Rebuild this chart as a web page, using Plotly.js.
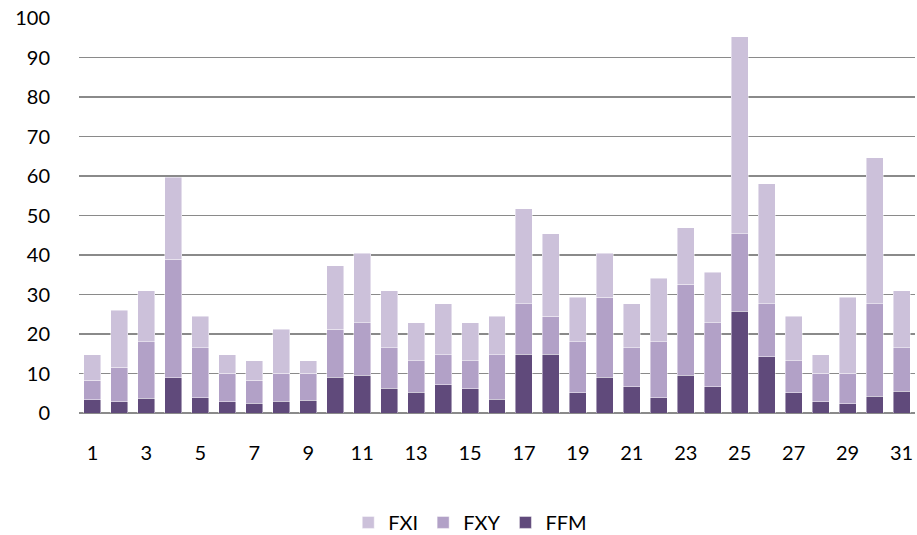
<!DOCTYPE html>
<html>
<head>
<meta charset="utf-8">
<script src="https://cdn.plot.ly/plotly-3.0.1.min.js"></script>
<style>html,body{margin:0;padding:0;background:#fff;}#chart{width:917px;height:535px;}</style>
</head>
<body>
<div id="chart"></div>
<script>
const categories = ["1","2","3","4","5","6","7","8","9","10","11","12","13","14","15","16","17","18","19","20","21","22","23","24","25","26","27","28","29","30","31"];
const tickLabels = ["1","3","5","7","9","11","13","15","17","19","21","23","25","27","29","31"];
const FFM = [3.4,2.8,3.7,8.9,3.9,2.8,2.5,3.0,3.2,9.0,9.5,6.3,5.2,7.2,6.2,3.5,14.9,14.9,5.1,9.0,6.7,3.9,9.5,6.7,25.7,14.3,5.1,2.9,2.3,4.2,5.5];
const FXY = [4.9,8.8,14.4,30.0,12.6,7.3,5.8,7.1,6.9,12.2,13.3,10.2,8.0,7.6,7.0,11.3,12.8,9.6,13.0,20.3,9.8,14.2,23.1,16.1,19.7,13.4,8.1,7.2,7.8,23.5,11.0];
const FXI = [6.5,14.4,12.8,20.8,8.0,4.7,4.9,11.1,3.1,16.1,17.6,14.4,9.6,12.9,9.6,9.7,24.0,20.9,11.2,11.1,11.2,16.0,14.3,12.8,49.8,30.4,11.3,4.7,19.2,36.9,14.4];

const fnt = {family: "Lato, 'Liberation Sans', sans-serif", size: 20, color: "#000"};
const edge = {color: "rgba(255,255,255,0.6)", width: 0.75};
const traces = [
  {type: "bar", name: "FFM", x: categories, y: FFM, marker: {color: "#604A7B", line: edge}},
  {type: "bar", name: "FXY", x: categories, y: FXY, marker: {color: "#B2A1C7", line: edge}},
  {type: "bar", name: "FXI", x: categories, y: FXI, marker: {color: "#CCC1DA", line: edge}}
];
const layout = {
  width: 917, height: 535,
  margin: {l: 79, r: 2, t: 18, b: 122, autoexpand: false},
  barmode: "stack",
  bargap: 0.37,
  paper_bgcolor: "#fff", plot_bgcolor: "#fff",
  font: fnt,
  showlegend: true,
  legend: {orientation: "h", traceorder: "reversed", x: 0.468, xanchor: "center", y: -0.277, yanchor: "middle", font: fnt, itemwidth: 30},
  xaxis: {type: "category", tickmode: "array", tickvals: tickLabels, ticktext: tickLabels, showgrid: false,
          showline: false, zeroline: false, ticks: "", ticklabelstandoff: 26, tickfont: fnt},
  yaxis: {range: [0, 100], tickmode: "linear", tick0: 0, dtick: 10, showgrid: true, gridcolor: "#8a8a8a", gridwidth: 1.5,
          zeroline: true, zerolinecolor: "#8a8a8a", zerolinewidth: 1.5, showline: false, ticks: "", ticklabelstandoff: 28, tickfont: fnt}
};
Plotly.newPlot("chart", traces, layout, {displayModeBar: false, staticPlot: true});
</script>
</body>
</html>
